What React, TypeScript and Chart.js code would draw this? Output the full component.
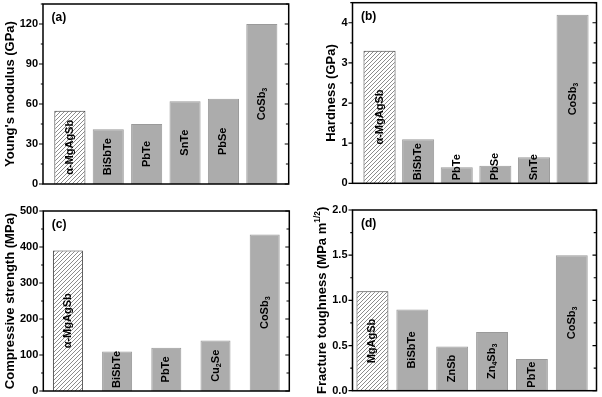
import React, { useEffect, useRef } from 'react';
import { Chart, registerables } from 'chart.js';
Chart.register(...registerables);

const FONT = '"Liberation Sans", Arial, Helvetica, sans-serif';

// ---- data ----
const catsA = ['α-MgAgSb', 'BiSbTe', 'PbTe', 'SnTe', 'PbSe', 'CoSb_3'];
const youngsModulus = [55, 41, 45, 62, 64, 120];

const catsB = ['α-MgAgSb', 'BiSbTe', 'PbTe', 'PbSe', 'SnTe', 'CoSb_3'];
const hardness = [3.3, 1.1, 0.4, 0.44, 0.65, 4.2];

const catsC = ['α-MgAgSb', 'BiSbTe', 'PbTe', 'Cu_2Se', 'CoSb_3'];
const compressiveStrength = [390, 110, 120, 140, 435];

const catsD = ['MgAgSb', 'BiSbTe', 'ZnSb', 'Zn_4Sb_3', 'PbTe', 'CoSb_3'];
const fractureToughness = [1.1, 0.9, 0.49, 0.65, 0.35, 1.5];

const titleA = "Young's modulus (GPa)";
const titleB = 'Hardness (GPa)';
const titleC = 'Compressive strength (MPa)';
const titleD = 'Fracture toughness (MPa m^{1/2})';

// ---- rich text helpers ----
type Seg = { t: string; k: number };
function parseRich(s: string): Seg[] {
  const out: Seg[] = [];
  const re = /([_^])\{([^}]*)\}|([_^])(\d)|([^_^]+)/g;
  let m: RegExpExecArray | null;
  while ((m = re.exec(s))) {
    if (m[1]) out.push({ t: m[2], k: m[1] === '_' ? 1 : -1 });
    else if (m[3]) out.push({ t: m[4], k: m[3] === '_' ? 1 : -1 });
    else out.push({ t: m[5], k: 0 });
  }
  return out;
}
function segFont(size: number, k: number) {
  return `bold ${k === 0 ? size : size * 0.65}px ${FONT}`;
}
function richWidth(ctx: CanvasRenderingContext2D, s: string, size: number) {
  let w = 0;
  for (const sg of parseRich(s)) {
    ctx.font = segFont(size, sg.k);
    w += ctx.measureText(sg.t).width;
  }
  return w;
}
function drawVertical(ctx: CanvasRenderingContext2D, s: string, cx: number, cy: number, size: number) {
  const w = richWidth(ctx, s, size);
  ctx.save();
  ctx.translate(cx, cy);
  ctx.rotate(-Math.PI / 2);
  ctx.fillStyle = '#000';
  ctx.textBaseline = 'middle';
  ctx.textAlign = 'left';
  let x = -w / 2;
  for (const sg of parseRich(s)) {
    ctx.font = segFont(size, sg.k);
    const dy = sg.k === 1 ? size * 0.3 : sg.k === -1 ? -size * 0.4 : 0;
    ctx.fillText(sg.t, x, dy);
    x += ctx.measureText(sg.t).width;
  }
  ctx.restore();
}

type PanelCfg = {
  left: number; top: number; w: number; h: number;
  plot: { l: number; t: number; r: number; b: number };
  cats: string[]; values: number[];
  yMax: number; step: number; minor: number; dec: number;
  xMin: number; xMax: number; barPct: number;
  letter: string; title: string;
};

const panels: PanelCfg[] = [
  { left: 0, top: 0, w: 301, h: 198, plot: { l: 43, t: 4, r: 288.7, b: 184 },
    cats: catsA, values: youngsModulus, yMax: 135, step: 30, minor: 15, dec: 0,
    xMin: 0.3, xMax: 6.7, barPct: 0.81, letter: '(a)', title: titleA },
  { left: 301, top: 0, w: 301, h: 198, plot: { l: 352.5, t: 2.7, r: 596.5, b: 183.3 },
    cats: catsB, values: hardness, yMax: 4.5, step: 1, minor: 0.5, dec: 0,
    xMin: 0.3, xMax: 6.62, barPct: 0.83, letter: '(b)', title: titleB },
  { left: 0, top: 198, w: 301, h: 199, plot: { l: 43.3, t: 211, r: 289.3, b: 391 },
    cats: catsC, values: compressiveStrength, yMax: 500, step: 100, minor: 50, dec: 0,
    xMin: 0.5, xMax: 5.5, barPct: 0.61, letter: '(c)', title: titleC },
  { left: 301, top: 198, w: 301, h: 199, plot: { l: 352.5, t: 210, r: 596.5, b: 390.7 },
    cats: catsD, values: fractureToughness, yMax: 2, step: 0.5, minor: 0.25, dec: 1,
    xMin: 0.5, xMax: 6.62, barPct: 0.8, letter: '(d)', title: titleD },
];

const TICK_SIZE = 11;
const TITLE_SIZE = 13;
const BAR_LABEL_SIZE = 11;

function makePlugin(cfg: PanelCfg) {
  return {
    id: 'panelDecor',
    afterDraw(chart: any) {
      const ctx: CanvasRenderingContext2D = chart.ctx;
      const { left, right, top, bottom } = chart.chartArea;
      const ys = chart.scales.y;
      ctx.save();
      // bar labels
      const meta = chart.getDatasetMeta(0);
      meta.data.forEach((el: any, i: number) => {
        const p = el.getProps(['x', 'y', 'base'], true);
        const len = richWidth(ctx, cfg.cats[i], BAR_LABEL_SIZE);
        const hgt = p.base - p.y;
        const cy = hgt >= len + 8 ? (p.y + p.base) / 2 : p.base - 3 - len / 2;
        drawVertical(ctx, cfg.cats[i], p.x, cy, BAR_LABEL_SIZE);
      });
      // frame
      ctx.strokeStyle = '#000';
      ctx.lineWidth = 1.5;
      ctx.strokeRect(left, top, right - left, bottom - top);
      // ticks
      ctx.lineWidth = 1.2;
      ctx.beginPath();
      const n = Math.round(cfg.yMax / cfg.minor);
      for (let k = 0; k <= n; k++) {
        const v = k * cfg.minor;
        const y = ys.getPixelForValue(v);
        const major = Math.abs(v / cfg.step - Math.round(v / cfg.step)) < 1e-6;
        const lo = major ? 4 : 2.2;
        const li = major ? 4 : 2.8;
        ctx.moveTo(left, y); ctx.lineTo(left - lo, y);
        ctx.moveTo(right, y); ctx.lineTo(right - li, y);
      }
      ctx.stroke();
      // title
      ctx.font = `bold ${TICK_SIZE}px ${FONT}`;
      let maxW = 0;
      for (let v = 0; v <= cfg.yMax + 1e-9; v += cfg.step) {
        maxW = Math.max(maxW, ctx.measureText(v.toFixed(cfg.dec)).width);
      }
      const tx = left - 5 - maxW - 3 - TITLE_SIZE / 2;
      drawVertical(ctx, cfg.title, tx, (top + bottom) / 2, TITLE_SIZE);
      // panel letter
      ctx.font = `bold 12px ${FONT}`;
      ctx.fillStyle = '#000';
      ctx.textAlign = 'left';
      ctx.textBaseline = 'middle';
      ctx.fillText(cfg.letter, left + 8.5, top + 14);
      ctx.restore();
    },
  };
}

function Panel({ cfg }: { cfg: PanelCfg }) {
  const ref = useRef<HTMLCanvasElement>(null);
  useEffect(() => {
    const canvas = ref.current!;
    const c2d = canvas.getContext('2d')!;
    const off = document.createElement('canvas');
    off.width = 4; off.height = 4;
    const g = off.getContext('2d')!;
    g.fillStyle = '#fff';
    g.fillRect(0, 0, 4, 4);
    g.strokeStyle = '#6e6e6e';
    g.lineWidth = 0.8;
    g.beginPath();
    g.moveTo(-1, 5); g.lineTo(5, -1);
    g.moveTo(-1, 1); g.lineTo(1, -1);
    g.moveTo(3, 5); g.lineTo(5, 3);
    g.stroke();
    const hatch = c2d.createPattern(off, 'repeat');

    const p = cfg.plot;
    const chart = new Chart(canvas, {
      type: 'bar',
      data: {
        datasets: [{
          data: cfg.values.map((v, i) => ({ x: i + 1, y: v })),
          backgroundColor: cfg.values.map((_, i) => (i === 0 ? (hatch as any) : '#acacac')),
          borderColor: cfg.values.map((_, i) => (i === 0 ? '#3c3c3c' : '#9a9a9a')),
          borderWidth: 1,
          barPercentage: cfg.barPct,
          categoryPercentage: 1,
        }],
      },
      options: {
        animation: false,
        responsive: false,
        events: [],
        layout: {
          padding: {
            left: 0,
            top: p.t - cfg.top,
            right: cfg.left + cfg.w - p.r,
            bottom: cfg.top + cfg.h - p.b,
          },
        },
        plugins: { legend: { display: false }, tooltip: { enabled: false } },
        scales: {
          x: { type: 'linear', min: cfg.xMin, max: cfg.xMax, display: false, offset: false },
          y: {
            min: 0,
            max: cfg.yMax,
            ticks: {
              stepSize: cfg.step,
              includeBounds: false,
              padding: 5,
              color: '#000',
              font: { family: FONT, size: TICK_SIZE, weight: 'bold' },
              callback: (v: any) => Number(v).toFixed(cfg.dec),
            },
            grid: { display: false, drawTicks: false },
            border: { display: false },
            afterFit: (s: any) => {
              s.width = p.l - cfg.left;
              s.paddingTop = 0;
              s.paddingBottom = 0;
            },
          },
        },
      } as any,
      plugins: [makePlugin(cfg)],
    });
    return () => chart.destroy();
  }, [cfg]);
  return (
    <canvas
      ref={ref}
      width={cfg.w}
      height={cfg.h}
      style={{ position: 'absolute', left: cfg.left, top: cfg.top, width: cfg.w, height: cfg.h }}
    />
  );
}

export default function App() {
  return (
    <div style={{ position: 'absolute', left: 0, top: 0, width: 602, height: 397, background: '#fff' }}>
      {panels.map((cfg) => (
        <Panel key={cfg.letter} cfg={cfg} />
      ))}
    </div>
  );
}
